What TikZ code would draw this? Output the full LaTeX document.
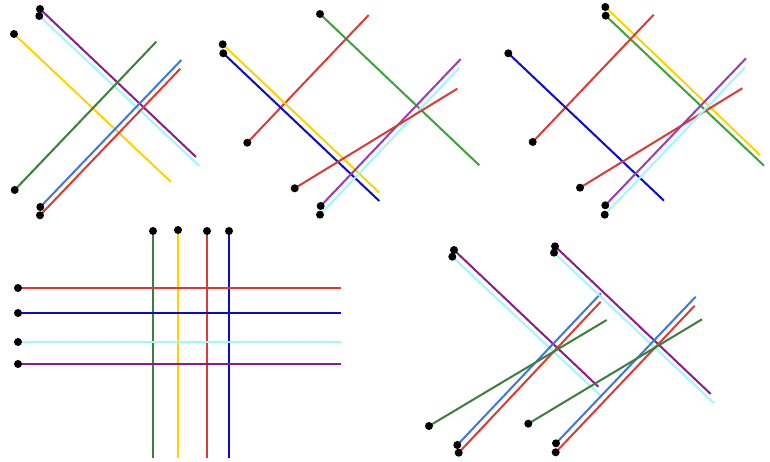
\documentclass[tikz,border=0pt]{standalone}
\definecolor{cred}{HTML}{DB3B36}
\definecolor{cgreenD}{HTML}{3A7F3A}
\definecolor{cgreen}{HTML}{3AA33A}
\definecolor{cpurple}{HTML}{8B1C8B}
\definecolor{cpurpleL}{HTML}{9B3DB0}
\definecolor{ccyan}{HTML}{A0F8F8}
\definecolor{csteel}{HTML}{3C7AD6}
\definecolor{cblue}{HTML}{0A0AD0}
\definecolor{cyellow}{HTML}{FFD200}
\tikzset{
  seg/.style={line width=2pt},
  dot/.style={circle,fill=black,inner sep=0pt,minimum size=8pt}
}
\begin{document}
\begin{tikzpicture}[x=1pt,y=-1pt]
\useasboundingbox[fill=white] (0,0) rectangle (770,462);
\foreach \n/\c/\xa/\ya/\xb/\yb in {
  % panel 1
  a1/cpurple/40/9/196/157,
  a2/ccyan/39.3/16/199.3/166,
  a3/cyellow/14/34/170.7/181.7,
  a4/cgreenD/14.7/190/156.3/41.7,
  a5/csteel/40.3/207/181.3/60,
  a6/cred/40/215.3/180.3/68.7,
  % panel 2
  b1/cgreen/320/14/479.3/165.3,
  b2/cred/247.3/142.7/368.7/15,
  b3/cyellow/222.7/44.3/379.3/192.7,
  b4/cblue/223.3/53.3/379.3/201,
  b5/cpurpleL/320.7/206/460.7/59,
  b6/ccyan/320/214.7/459.3/67.7,
  b7/cred/294.7/188.3/457.3/88.7,
  % panel 3
  c1/cyellow/605.3/7/760/155,
  c2/cgreen/605.7/15.7/764/165.7,
  c3/cred/532.7/142/653.7/14.7,
  c4/cblue/508.3/53.3/664/200.7,
  c5/cred/580/187.7/742.3/88.3,
  c6/cpurpleL/605.3/205.3/746/58.3,
  c7/ccyan/604.7/214.7/745/67.3,
  % panel 4
  d1/cgreenD/153/231/153/458,
  d2/cyellow/178/230/178/458,
  d3/cred/207/231/207/458,
  d4/cblue/229/231/229/458,
  d5/cred/18/288/341/288,
  d6/cblue/18/313/341/313,
  d7/ccyan/18/342/341/342,
  d8/cpurple/18/364/341/364,
  % panel 5
  e1/cpurple/454/250/598.3/386.7,
  e2/ccyan/452.3/256.7/601/396,
  e3/csteel/457.3/445/601/293.3,
  e4/cred/458.7/452.7/600.7/301.7,
  e5/cgreenD/429/426/606.7/320,
  e6/cpurple/555/246.3/710.7/394,
  e7/ccyan/554/252.7/714/403.3,
  e8/csteel/556/443.3/695.7/296.7,
  e9/cred/555.7/452.3/694.7/305.7,
  e10/cgreenD/528.3/423.7/702/319.3}
{
  \coordinate (s\n) at (\xa,\ya);
  \coordinate (t\n) at (\xb,\yb);
  \draw[seg,draw=\c] (s\n) -- (t\n);
}
\foreach \n in {a1,a2,a3,a4,a5,a6,b1,b2,b3,b4,b5,b6,b7,c1,c2,c3,c4,c5,c6,c7,d1,d2,d3,d4,d5,d6,d7,d8,e1,e2,e3,e4,e5,e6,e7,e8,e9,e10}
  \node[dot] (dot\n) at (s\n) {};
\end{tikzpicture}
\end{document}
